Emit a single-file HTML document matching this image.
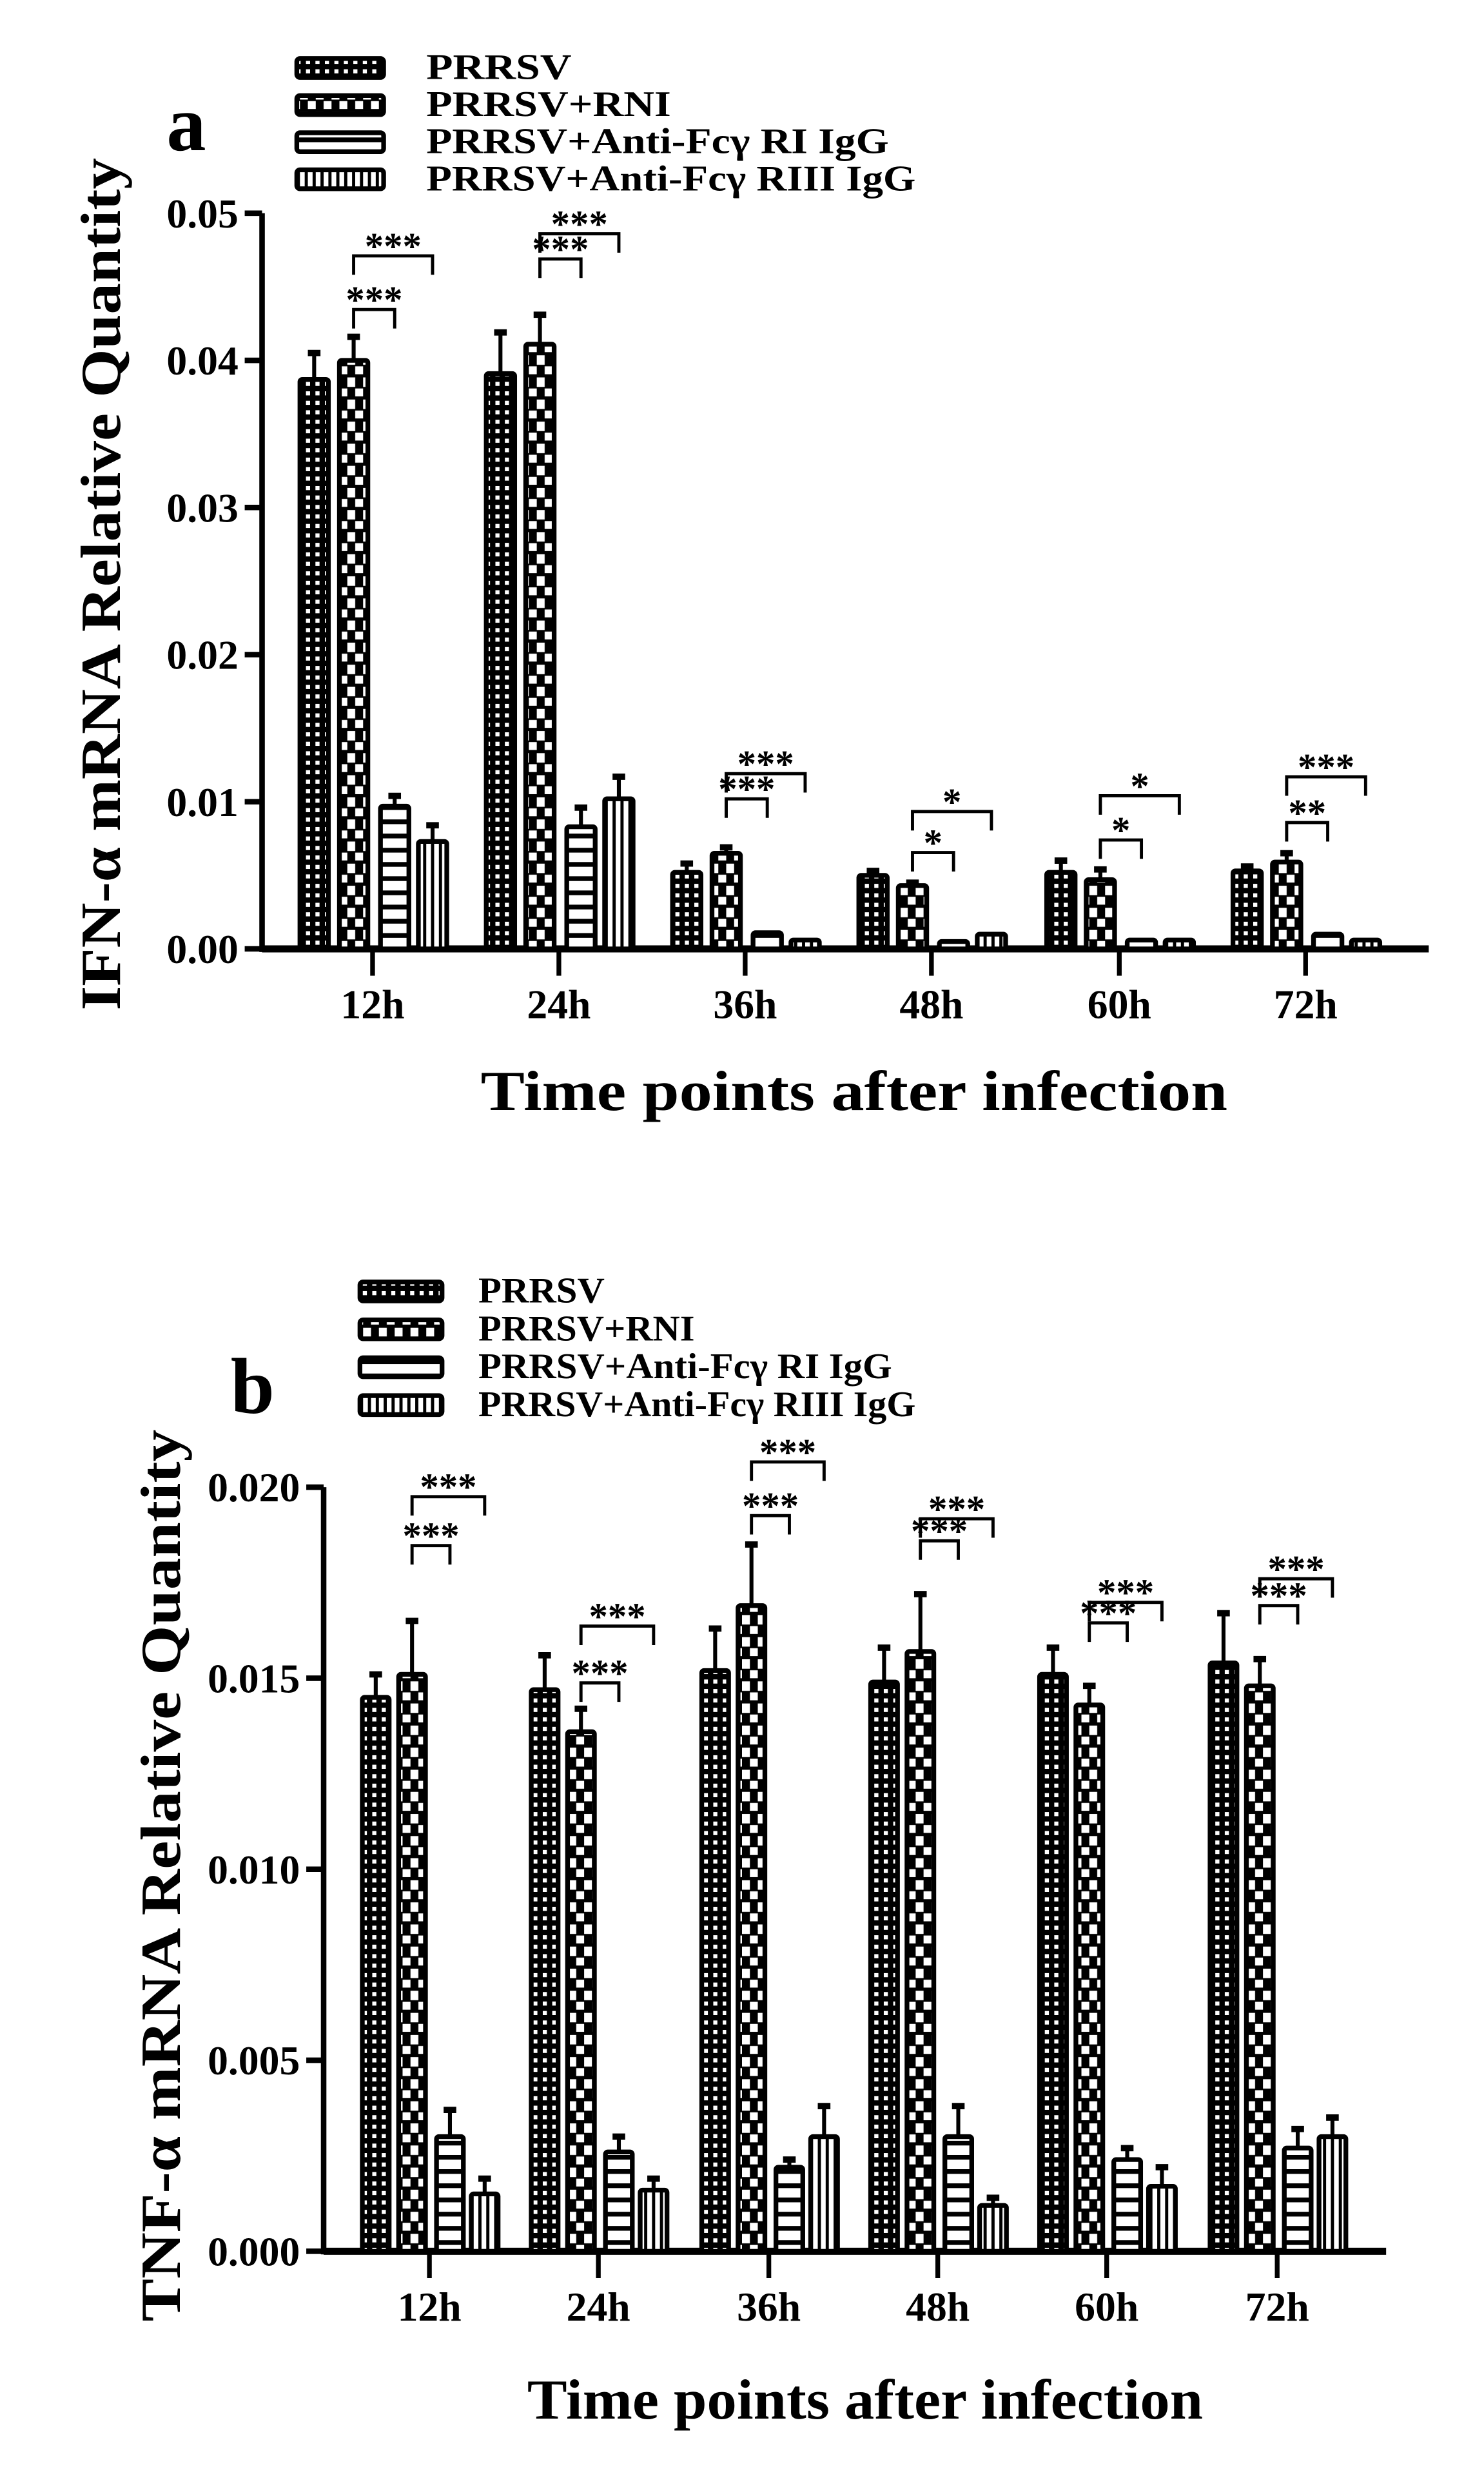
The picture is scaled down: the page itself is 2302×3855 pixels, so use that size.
<!DOCTYPE html>
<html><head><meta charset="utf-8"><style>
html,body{margin:0;padding:0;background:#fff;}
svg{display:block;}
text{font-family:"Liberation Serif",serif;font-weight:bold;fill:#000;}
</style></head><body>
<svg id="s" width="2302" height="3855" viewBox="0 0 940 1574" xmlns="http://www.w3.org/2000/svg">
<defs>
<pattern id="p1" patternUnits="userSpaceOnUse" width="6" height="6"><rect width="6" height="6" fill="#000"/><rect x="1.8" y="1.8" width="2.6" height="2.6" fill="#fff"/></pattern>
<pattern id="p2" patternUnits="userSpaceOnUse" width="10" height="14"><rect width="10" height="14" fill="#000"/><rect x="0" y="1" width="5" height="6" fill="#fff"/><rect x="5" y="8" width="5" height="5" fill="#fff"/></pattern>
<pattern id="p3" patternUnits="userSpaceOnUse" width="10" height="9"><rect width="10" height="9" fill="#fff"/><rect y="6" width="10" height="3" fill="#000"/></pattern>
<pattern id="p4" patternUnits="userSpaceOnUse" width="5" height="10"><rect width="5" height="10" fill="#fff"/><rect x="3" width="2" height="10" fill="#000"/></pattern>
</defs>
<g id="g"></g>
</svg>
<script>
var g=document.getElementById('g'),h='';
function T(x,y,s,t,a,extra){h+='<text x="'+x+'" y="'+y+'" font-size="'+s+'" text-anchor="'+(a||'start')+'" '+(extra||'')+'>'+t+'</text>';}
function L(x1,y1,x2,y2,w){h+='<line x1="'+x1+'" y1="'+y1+'" x2="'+x2+'" y2="'+y2+'" stroke="#000" stroke-width="'+w+'"/>';}
function chart(c){
 var ax=c.ax,y0=c.y0,k=c.k;
 for(var i=0;i<4;i++){var ly=c.ly+i*c.lsp;
  h+='<rect x="'+c.lx+'" y="'+(ly-6)+'" width="'+c.lw+'" height="12" rx="2" fill="url(#p'+(i+1)+')" stroke="#000" stroke-width="3"/>';
  T(c.tx,ly+7,23,c.names[i],'start','textLength="'+c.lwid[i]+'" lengthAdjust="spacingAndGlyphs"');}
 T(c.lab[0],c.lab[1],50,c.letter,'middle');
 L(ax,c.ytop,ax,y0+2,3.5);
 c.yt.forEach(function(v){var y=y0-v*k;L(ax-11,y,ax,y,3.5);T(ax-15,y+9,26,v.toFixed(c.dec),'end');});
 L(ax,y0,c.xend,y0,4.5);
 var labs=['12h','24h','36h','48h','60h','72h'];
 c.xt.forEach(function(x,i){L(x,y0,x,y0+17,3);T(x,y0+44,26,labs[i],'middle');
  var off=c.off;
  c.data[i].forEach(function(d,j){var bx=x+off[j],top=y0-d[0]*k,w=c.bw;
   var et=y0-(d[0]+d[1])*k;
   if(d[1]>0){L(bx,top,bx,et,2.5);L(bx-4,et,bx+4,et,4);}
   var hh=Math.max(y0-top,3);
   h+='<rect x="'+(bx-w/2)+'" y="'+(y0-hh)+'" width="'+w+'" height="'+hh+'" fill="url(#p'+(j+1)+')" stroke="#000" stroke-width="3" rx="1.5"/>';
  });
  var br=c.br[i];
  var x2=x+off[1],x3=x+off[2],x4=x+off[3];
  h+='<path d="M'+x2+' '+(br[0]+12)+'V'+br[0]+'H'+x3+'V'+(br[0]+12)+'" fill="none" stroke="#000" stroke-width="2"/>';
  T((x2+x3)/2,br[0]+2,24,br[2],'middle');
  h+='<path d="M'+x2+' '+(br[1]+12)+'V'+br[1]+'H'+x4+'V'+(br[1]+12)+'" fill="none" stroke="#000" stroke-width="2"/>';
  T((x2+x4)/2,br[1]+2,24,br[3],'middle');
 });
 T(c.xtitle[0],c.xtitle[1],36,'Time points after infection','middle','textLength="'+c.xtw+'" lengthAdjust="spacingAndGlyphs"');
 T(0,0,36,c.ytitle,'middle','textLength="'+c.ytw+'" lengthAdjust="spacingAndGlyphs" transform="translate('+c.ytl[0]+','+c.ytl[1]+') rotate(-90)"');
}
var names=['PRRSV','PRRSV+RNI','PRRSV+Anti-Fc&#947;  RI IgG','PRRSV+Anti-Fc&#947;  RIII IgG'];
chart({ax:166,y0:601,k:9320,ytop:135,xend:905,yt:[0,0.01,0.02,0.03,0.04,0.05],dec:2,
 xt:[236,354,472,590,709,827],off:[-37,-12,14,38],bw:18,
 data:[[[0.0387,0.0018],[0.0400,0.0016],[0.0097,0.0007],[0.0073,0.0011]],
 [[0.0391,0.0028],[0.0411,0.0020],[0.0083,0.0013],[0.0102,0.0015]],
 [[0.0052,0.0006],[0.0065,0.0004],[0.0011,0],[0.0006,0]],
 [[0.0050,0.0003],[0.0043,0.0002],[0.0005,0],[0.0010,0]],
 [[0.0052,0.0008],[0.0047,0.0007],[0.0006,0],[0.0006,0]],
 [[0.0053,0.0003],[0.0059,0.0006],[0.0010,0],[0.0006,0]]],
 br:[[196,162,'***','***'],[164,148,'***','***'],[506,490,'***','***'],[540,514,'*','*'],[532,504,'*','*'],[521,492,'**','***']],
 lx:188,lw:55,ly:43,lsp:23.5,tx:270,names:names,lwid:[92,155,293,310],lab:[118,95],letter:'a',
 xtitle:[541,703],xtw:473,ytitle:'IFN-&#945; mRNA Relative Quantity',ytw:540,ytl:[76,370]});
chart({ax:205,y0:1426,k:24200,ytop:942,xend:878,yt:[0,0.005,0.010,0.015,0.020],dec:3,
 xt:[272,379,487,594,701,809],off:[-34,-11,13,35],bw:17,
 data:[[[0.0145,0.0006],[0.0151,0.0014],[0.0030,0.0007],[0.0015,0.0004]],
 [[0.0147,0.0009],[0.0136,0.0006],[0.0026,0.0004],[0.0016,0.0003]],
 [[0.0152,0.0011],[0.0169,0.0016],[0.0022,0.0002],[0.0030,0.0008]],
 [[0.0149,0.0009],[0.0157,0.0015],[0.0030,0.0008],[0.0012,0.0002]],
 [[0.0151,0.0007],[0.0143,0.0005],[0.0024,0.0003],[0.0017,0.0005]],
 [[0.0154,0.0013],[0.0148,0.0007],[0.0027,0.0005],[0.0030,0.0005]]],
 br:[[979,948,'***','***'],[1066,1030,'***','***'],[960,926,'***','***'],[976,962,'***','***'],[1028,1015,'***','***'],[1017,1000,'***','***']],
 lx:228,lw:52,ly:818,lsp:24,tx:303,names:names,lwid:[80,137,262,277],lab:[160,895],letter:'b',
 xtitle:[548,1532],xtw:428,ytitle:'TNF-&#945; mRNA Relative Quantity',ytw:565,ytl:[114,1188]});
g.innerHTML=h;
</script>
</body></html>
